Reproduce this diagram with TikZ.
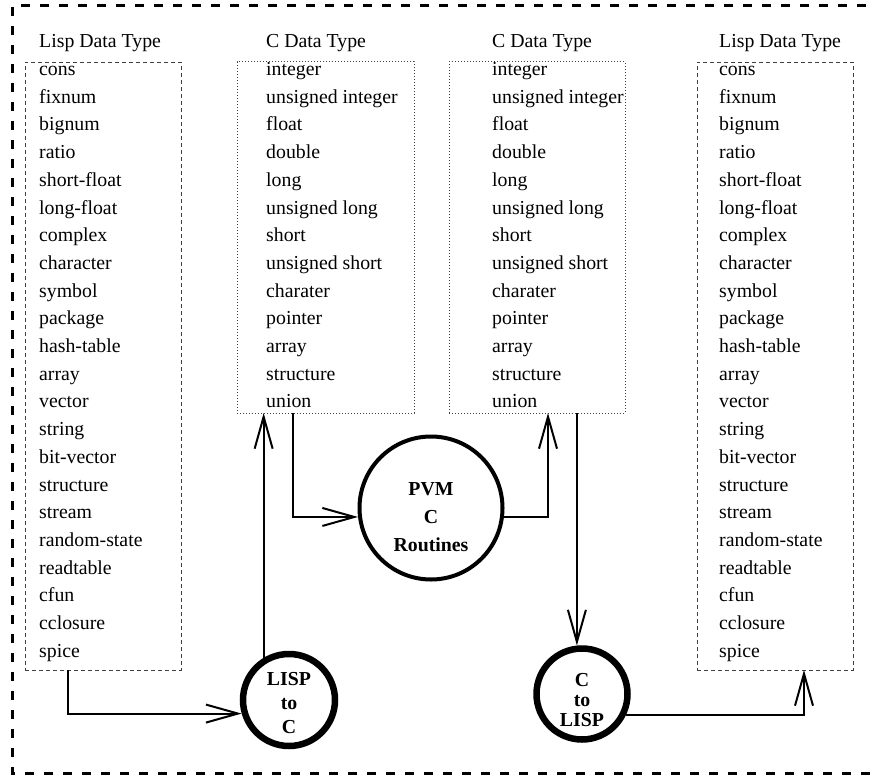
\documentclass[tikz,border=0pt]{standalone}
\usepackage{fontspec}
\setmainfont{Liberation Serif}
\usetikzlibrary{arrows.meta,calc}
\begin{document}
\begin{tikzpicture}[x=1pt,y=-1pt,
  item/.style={anchor=base west, inner sep=0pt, font=\fontsize{19.8}{23}\selectfont},
  lispbox/.style={rectangle, anchor=north west, inner sep=0pt, outer sep=0pt, draw=black!75, line width=0.9pt, dash pattern=on 4pt off 3pt},
  cbox/.style={rectangle, anchor=north west, inner sep=0pt, outer sep=0pt, draw=black!75, line width=1pt, dash pattern=on 1pt off 2pt},
  conn/.style={line width=2pt, -{Straight Barb[length=32pt,width=18pt]}},
  proc/.style={circle, draw, inner sep=0pt},
  proctext/.style={align=center, inner sep=0pt, font=\bfseries},
  border/.style={line width=3pt, dash pattern=on 9pt off 10pt}
]
\useasboundingbox (0,0) rectangle (870,776);
\draw[border] (885,6) -- (12,6) -- (12,773) -- (885,773);

% boxes
\node[lispbox, minimum width=156pt, minimum height=608pt] (lbox) at (25,62) {};
\node[cbox, minimum width=177pt, minimum height=351pt] (c1box) at (237,62) {};
\node[cbox, minimum width=176pt, minimum height=351pt] (c2box) at (449,62) {};
\node[lispbox, minimum width=156pt, minimum height=608pt] (rbox) at (697,62) {};

% titles
\node[item] (lt) at (39,48) {Lisp Data Type};
\node[item] (c1t) at (266,48) {C Data Type};
\node[item] (c2t) at (492,48) {C Data Type};
\node[item] (rt) at (719,48) {Lisp Data Type};

% lisp lists
\foreach \t [count=\i from 0] in {cons,fixnum,bignum,ratio,short-float,long-float,complex,character,symbol,package,hash-table,array,vector,string,bit-vector,structure,stream,random-state,readtable,cfun,cclosure,spice}{
  \node[item] (la\i) at (39,{75.5+\i*27.7}) {\t};
  \node[item] (ra\i) at (719,{75.5+\i*27.7}) {\t};
}
% C lists
\foreach \t [count=\i from 0] in {integer,unsigned integer,float,double,long,unsigned long,short,unsigned short,charater,pointer,array,structure,union}{
  \node[item] (ca\i) at (266,{75.5+\i*27.7}) {\t};
  \node[item] (cb\i) at (492,{75.5+\i*27.7}) {\t};
}

% processes
\node[proc, minimum size=92pt, line width=6.5pt] (l2c) at (289,700) {};
\node[proctext, font=\fontsize{19.8}{24}\selectfont\bfseries] (l2ct) at (289,703) {LISP\\to\\C};
\node[proc, minimum size=143pt, line width=4pt] (pvm) at (431,508) {};
\node[proctext, font=\fontsize{19.8}{28}\selectfont\bfseries] (pvmt) at (431,517) {PVM\\C\\Routines};
\node[proc, minimum size=91pt, line width=6.5pt] (c2l) at (582,694) {};
\node[proctext, font=\fontsize{19.8}{20}\selectfont\bfseries] (c2lt) at (582,700) {C\\to\\LISP};

% connectors
\draw[conn] ($(lbox.south west)+(43,0)$) |- (l2c.196);
\draw[conn] (l2c.121) -- (l2c.121 |- c1box.south);
\draw[conn] ($(c1box.south west)+(56,0)$) |- (pvm.187);
\draw[conn] (pvm.353) -| ($(c2box.south west)+(99,0)$);
\draw[conn] (c2l.96 |- c2box.south) -- (c2l.96);
\draw[conn] (c2l.335) -| ($(rbox.south west)+(107,0)$);
\end{tikzpicture}
\end{document}
